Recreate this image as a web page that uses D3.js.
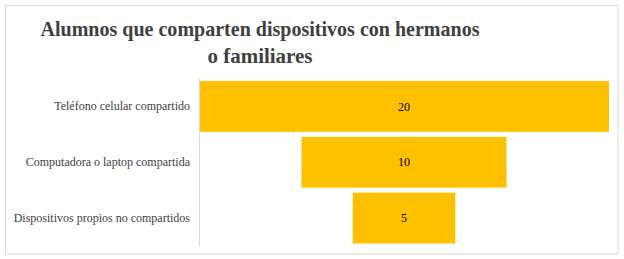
<!DOCTYPE html>
<html>
<head>
<meta charset="utf-8">
<script src="https://cdn.jsdelivr.net/npm/d3@7"></script>
<style>
  body { margin: 0; background: #fff; }
</style>
</head>
<body>
<svg id="chart"></svg>
<script>
// Chart data
const categories = ['Teléfono celular compartido', 'Computadora o laptop compartida', 'Dispositivos propios no compartidos'];
const values = [20, 10, 5];
const titleLines = ['Alumnos que comparten dispositivos con hermanos', 'o familiares'];

const W = 624, H = 259;
const titleWidths = [439, 105];

const svg = d3.select('#chart')
    .attr('width', W)
    .attr('height', H)
    .style('display', 'block');

// Outer frame
svg.append('rect')
    .attr('x', 5.5)
    .attr('y', 5.5)
    .attr('width', 612.5)
    .attr('height', 248.5)
    .attr('fill', '#fff')
    .attr('stroke', '#d9d9d9')
    .attr('stroke-width', 1);

// Title (two lines, squeezed a bit like the original)
svg.selectAll('.title')
    .data(titleLines)
    .enter()
    .append('text')
    .attr('class', 'title')
    .attr('x', 260)
    .attr('y', (d, i) => 36 + i * 27)
    .attr('text-anchor', 'middle')
    .attr('font-family', 'Liberation Serif')
    .attr('font-size', 22)
    .attr('font-weight', 'bold')
    .attr('fill', '#404040')
    .attr('textLength', (d, i) => titleWidths[i])
    .attr('lengthAdjust', 'spacingAndGlyphs')
    .text(d => d);

// Scales
const y = d3.scaleBand()
    .domain(categories)
    .range([78.5, 246])
    .paddingInner(0.09)
    .paddingOuter(0.045);

// funnel: bars centred on zero
const x = d3.scaleLinear()
    .domain([-10, 10])
    .range([199, 609]);

// Bars
svg.selectAll('.bar')
    .data(values)
    .enter()
    .append('rect')
    .attr('class', 'bar')
    .attr('x', d => x(-d / 2))
    .attr('y', (d, i) => y(categories[i]))
    .attr('width', d => x(d / 2) - x(-d / 2))
    .attr('height', y.bandwidth())
    .attr('fill', '#ffc000');

// Value labels
svg.selectAll('.label')
    .data(values)
    .enter()
    .append('text')
    .attr('class', 'label')
    .attr('x', x(0))
    .attr('y', (d, i) => y(categories[i]) + y.bandwidth() / 2)
    .attr('dy', '0.35em')
    .attr('text-anchor', 'middle')
    .attr('font-family', 'Liberation Serif')
    .attr('font-size', 12)
    .attr('fill', '#000')
    .text(d => d);

// Category axis
const yAxis = svg.append('g')
    .attr('transform', `translate(${x(-10)},0)`)
    .call(d3.axisLeft(y).tickSize(0).tickPadding(9))
    .attr('font-family', 'Liberation Serif')
    .attr('font-size', 12);

yAxis.select('.domain')
    .attr('stroke', '#d9d9d9');

yAxis.selectAll('text')
    .attr('fill', '#404040');
</script>
</body>
</html>
